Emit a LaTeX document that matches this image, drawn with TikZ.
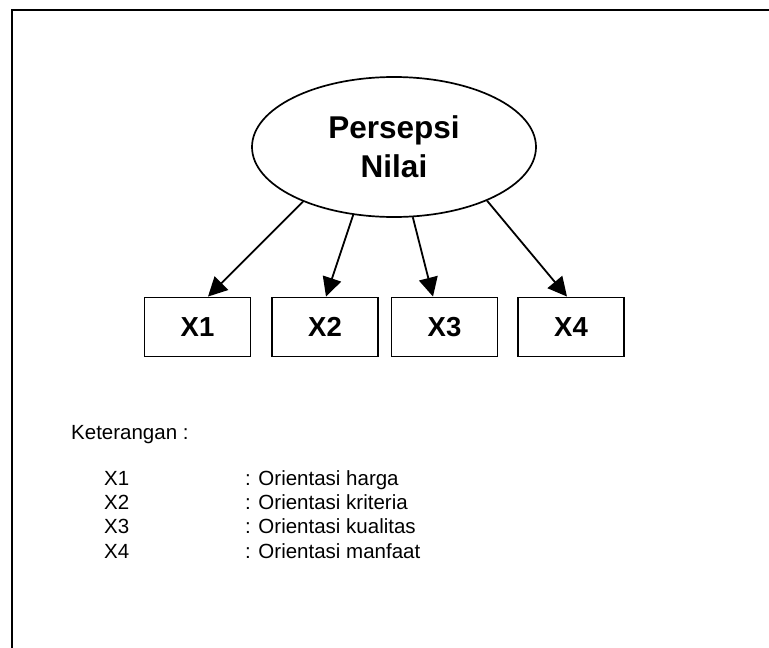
\documentclass[tikz,border=0pt]{standalone}
\usepackage{fontspec}
\setmainfont{Liberation Sans}
\usetikzlibrary{arrows.meta, shapes.geometric}

\tikzset{
  frameline/.style={line width=2pt},
  latent/.style={draw, ellipse, line width=1.7pt, minimum width=284pt, minimum height=140pt,
    inner sep=0pt, align=center, font=\fontsize{31.5}{39}\selectfont\bfseries},
  indicator/.style={draw, rectangle, line width=1.9pt, minimum width=106pt, minimum height=59pt,
    inner sep=0pt, font=\fontsize{27.5}{30}\selectfont\bfseries},
  loading/.style={line width=1.8pt, -{Triangle[length=19pt, width=19pt]}},
  legend/.style={anchor=base west, inner sep=0pt, font=\fontsize{20.5}{24}\selectfont}
}

\begin{document}
\begin{tikzpicture}[x=1pt, y=-1pt]
  \useasboundingbox (0,0) rectangle (769,648);

  % outer frame (top and left edges)
  \draw[frameline] (12,648) -- (12,10) -- (769,10);

  % latent construct
  \node[latent] (pn) at (394,147) {Persepsi\\Nilai};

  % indicators
  \node[indicator] (x1) at (197.5,327) {X1};
  \node[indicator] (x2) at (325,327) {X2};
  \node[indicator] (x3) at (444.5,327) {X3};
  \node[indicator] (x4) at (571,327) {X4};

  % loadings
  \draw[loading] (pn.211.8) -- ([xshift=10.5pt]x1.north);
  \draw[loading] (pn.239) -- ([xshift=1pt]x2.north);
  \draw[loading] (pn.285) -- ([xshift=-11.5pt]x3.north);
  \draw[loading] (pn.330.5) -- ([xshift=-4pt]x4.north);

  % legend
  \node[legend] (ket) at (71,439) {Keterangan :};
  \node[legend] (k1) at (104,485) {X1};
  \node[legend] (k2) at (104,509) {X2};
  \node[legend] (k3) at (104,533) {X3};
  \node[legend] (k4) at (104,558) {X4};
  \node[legend] (d1) at (245,485) {: Orientasi harga};
  \node[legend] (d2) at (245,509) {: Orientasi kriteria};
  \node[legend] (d3) at (245,533) {: Orientasi kualitas};
  \node[legend] (d4) at (245,558) {: Orientasi manfaat};
\end{tikzpicture}
\end{document}
